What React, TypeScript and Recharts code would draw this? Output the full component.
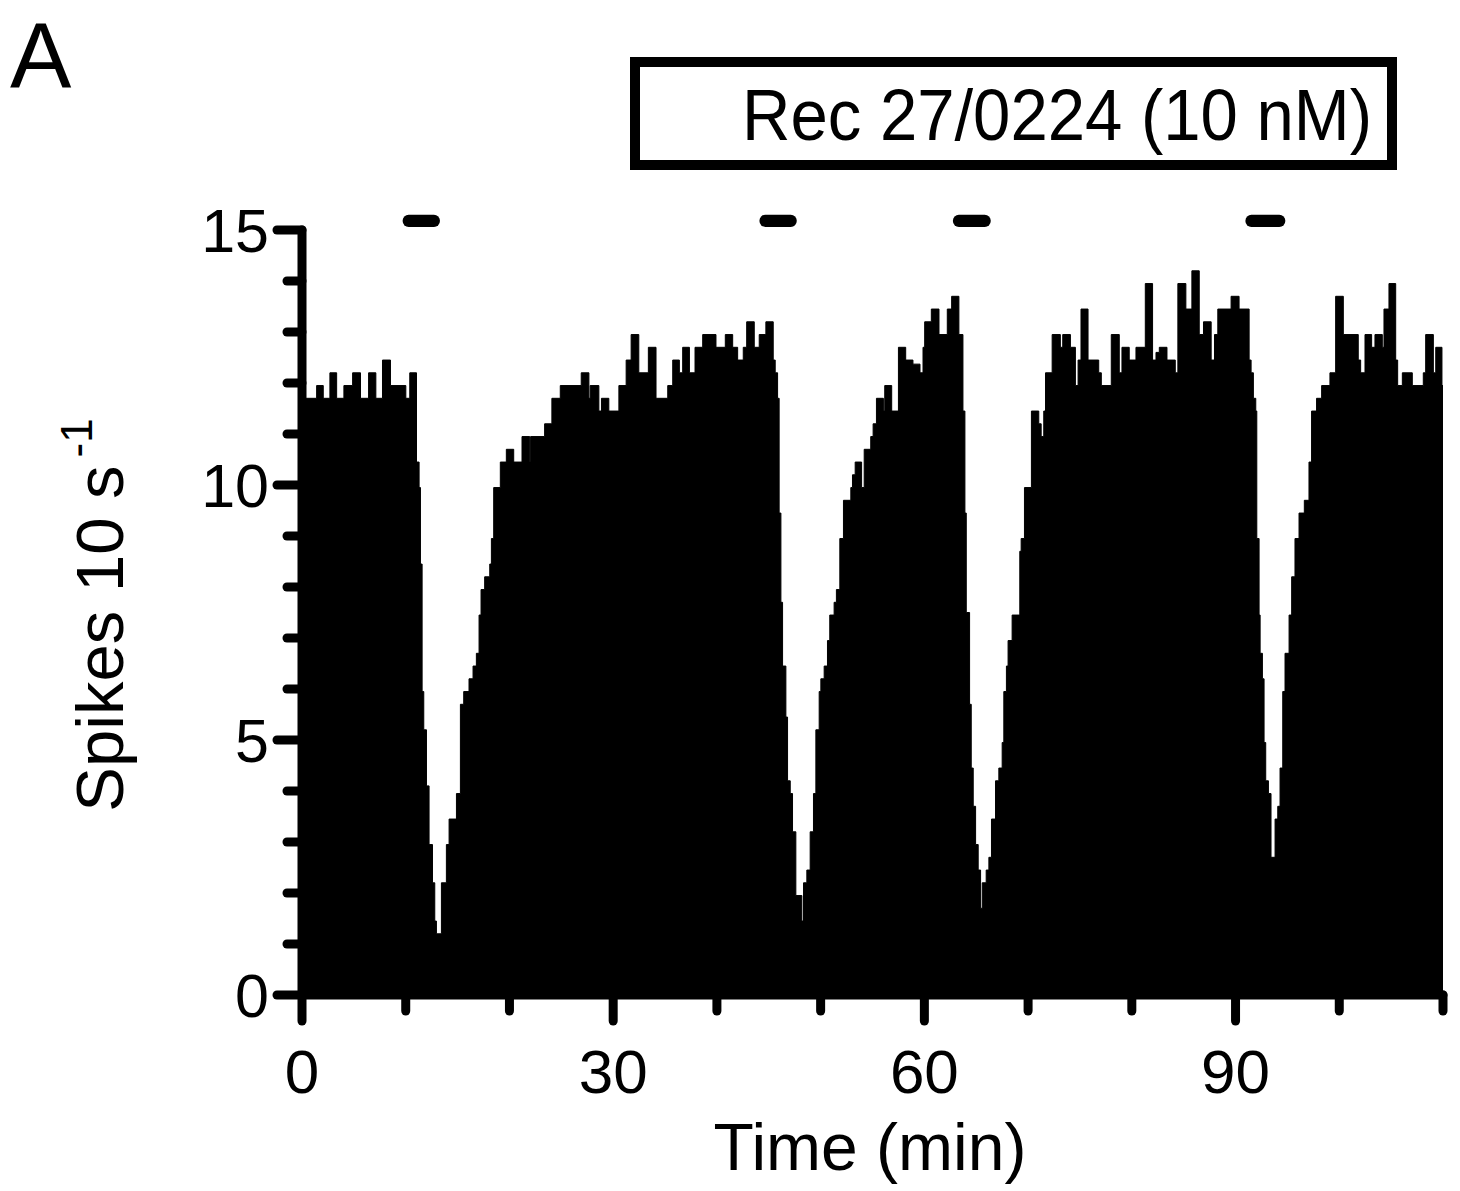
import { ComposedChart, Area, XAxis, YAxis, ReferenceArea } from 'recharts'

// step histogram: time (min) where a step begins, and the rate it holds
const stepTimes = [
	0, 1.41, 2.05, 2.69, 3.34, 4.04, 4.88, 5.64, 6.42, 7.12, 7.76, 8.53, 10.01, 10.39,
	11.04, 11.29, 11.42, 11.58, 11.74, 12.0, 12.25, 12.58, 12.8, 12.96,
	13.44, 13.92, 14.18, 14.89, 15.27, 15.59, 16.1, 16.49, 16.81, 17.07, 17.26, 17.61,
	18.1, 18.26, 18.48, 19.12, 19.7, 20.41, 21.21, 21.95, 22.04, 23.39, 24.09, 24.9,
	26.92, 27.66, 27.78, 28.62, 28.87, 29.58, 30.55, 31.25, 31.73, 32.47, 33.39, 34.13,
	35.26, 35.74, 36.38, 36.7, 37.35, 37.89, 38.63, 39.91, 40.81, 41.52, 42.0, 42.54,
	42.87, 43.6, 44.08, 44.72, 45.43, 45.62, 45.85,
	46.0, 46.17, 46.33, 46.65, 46.81, 47.07, 47.29, 47.61, 48.19,
	48.35, 48.67, 48.99, 49.31, 49.54, 49.86, 50.02, 50.34, 50.66, 50.88, 51.3, 51.52,
	51.85, 52.2, 52.91, 53.07, 53.33, 53.95, 54.2, 54.83, 55.06, 55.38, 56.05, 56.18,
	56.85, 57.5, 58.2, 58.9, 59.58, 59.87, 60.03, 60.67, 61.41, 62.21, 62.63, 63.33,
	63.72, 63.91, 64.04, 64.36, 64.52, 64.71, 64.94, 65.19, 65.42,
	65.58, 65.96, 66.22, 66.47, 66.86, 67.18, 67.5, 67.66, 67.91, 68.07, 68.46, 69.2,
	69.33, 69.65, 70.32, 71.03, 71.26, 71.51, 71.68, 72.32,
	73.11, 73.34, 74.08, 74.56, 74.82, 75.1, 75.78, 76.81, 77.06, 78.02, 78.79, 79.05,
	79.75, 80.4, 81.3, 82.0, 82.33, 82.65, 83.39, 84.19, 84.44, 85.21, 85.79, 86.5,
	86.91, 87.65, 87.97, 88.29, 89.57, 90.34,
	91.31, 91.5, 91.72, 91.95, 92.05, 92.27, 92.37, 92.59, 92.75, 92.91, 93.17, 93.42,
	93.81, 94.07, 94.29, 94.55, 94.77, 95.16, 95.41, 95.73, 96.12, 96.63, 97.08, 97.33,
	97.81, 98.3, 99.1, 99.65, 100.39, 101.83, 102.06, 102.48, 103.12, 103.44, 104.15,
	104.31, 104.79, 105.44, 105.63, 106.08, 107.04, 108.1, 108.33, 109.07, 109.3, 109.9, 110,
]
const spikeRates = [
	11.7, 11.95, 11.7, 12.2, 11.7, 11.95, 12.2, 11.7, 12.2, 11.7, 12.45, 11.95, 11.7, 12.2,
	10.45, 9.95, 8.45, 5.95, 5.2, 4.1, 2.95, 2.2, 1.45, 1.2,
	2.2, 2.95, 3.45, 3.95, 5.7, 5.95, 6.2, 6.45, 6.7, 7.45, 7.95, 8.2,
	8.45, 8.95, 9.95, 10.45, 10.7, 10.45, 10.95, 10.45, 10.95, 11.2, 11.7, 11.95,
	12.2, 11.7, 11.95, 11.45, 11.7, 11.45, 11.95, 12.45, 12.95, 12.2, 12.7, 11.7,
	11.95, 12.45, 12.2, 12.7, 12.2, 12.7, 12.95, 12.7, 12.95, 12.7, 12.45, 12.7,
	13.2, 12.7, 12.95, 13.2, 12.45, 12.2, 11.7,
	9.45, 7.7, 6.45, 5.45, 4.2, 3.95, 3.2, 1.95, 1.45,
	2.2, 2.45, 3.2, 3.95, 5.2, 5.95, 6.2, 6.45, 6.95, 7.45, 7.7, 7.95,
	8.95, 9.7, 9.95, 10.2, 10.45, 9.95, 10.7, 10.95, 11.2, 11.7, 11.45, 11.95,
	11.45, 12.7, 12.45, 12.37, 12.2, 12.7, 13.2, 13.45, 12.95, 13.45, 13.7, 12.95,
	11.45, 9.45, 7.5, 5.7, 4.45, 3.7, 2.95, 2.45, 1.7,
	2.2, 2.45, 2.7, 3.45, 4.2, 4.45, 4.95, 5.95, 6.45, 6.95, 7.45, 8.7,
	8.95, 9.95, 11.45, 11.2, 10.95, 11.45, 12.2, 12.95,
	12.7, 12.95, 12.7, 11.95, 12.45, 13.45, 12.45, 12.2, 11.95, 12.95, 12.2, 12.7,
	12.45, 12.7, 13.95, 12.45, 12.6, 12.7, 12.45, 12.2, 13.95, 13.45, 14.2, 12.95,
	13.2, 12.45, 12.95, 13.45, 13.7, 13.45,
	12.45, 12.2, 11.7, 11.45, 8.95, 7.45, 6.7, 6.2, 4.95, 4.2, 3.95, 2.7,
	3.45, 3.7, 4.45, 5.95, 6.7, 7.45, 8.2, 8.95, 9.45, 9.7, 10.45, 11.45,
	11.7, 11.95, 12.2, 13.7, 12.95, 12.45, 12.2, 12.95, 12.7, 12.95, 12.7,
	13.45, 13.95, 12.45, 11.95, 12.2, 11.95, 12.2, 12.95, 12.2, 12.7, 11.95, 11.95,
]

// drug application periods (min)
const drugStart = [9.7, 44.1, 62.75, 90.95]
const drugEnd = [13.3, 47.7, 66.4, 94.8]

const xTicks = [0, 10, 20, 30, 40, 50, 60, 70, 80, 90, 100, 110]
const xLabelled = [0, 30, 60, 90]
const yTicks = [0, 1, 2, 3, 4, 5, 6, 7, 8, 9, 10, 11, 12, 13, 14, 15]
const yLabelled = [0, 5, 10, 15]

const FONT = '"Liberation Sans", Arial, Helvetica, sans-serif'

const data = stepTimes.map((t, i) => ({ t, rate: spikeRates[i] }))

function XTick({ x, y, payload }: any) {
	const major = xLabelled.includes(payload.value)
	return (
		<g>
			<line x1={x} y1={y} x2={x} y2={y + (major ? 26 : 16)} stroke="#000" strokeWidth={9} strokeLinecap="round" />
			{major && (
				<text x={x} y={y + 98} textAnchor="middle" fontSize={62} fontFamily={FONT} fill="#000">
					{payload.value}
				</text>
			)}
		</g>
	)
}

function YTick({ x, y, payload }: any) {
	const major = yLabelled.includes(payload.value)
	return (
		<g>
			<line x1={x} y1={y} x2={x - (major ? 25 : 15)} y2={y} stroke="#000" strokeWidth={9} strokeLinecap="round" />
			{major && (
				<text x={x - 33} y={y + 22} textAnchor="end" fontSize={61} fontFamily={FONT} fill="#000">
					{payload.value}
				</text>
			)}
		</g>
	)
}

const drugBar = (p: any) => <rect x={p.x} y={p.y} width={p.width} height={p.height} rx={6} ry={6} fill="#000" />

export default function App() {
	return (
		<div style={{ position: 'absolute', left: 0, top: 0, width: 1460, height: 1191, background: '#fff' }}>
			<ComposedChart width={1460} height={1191} data={data} margin={{ top: 230, right: 17, bottom: 0, left: 0 }}>
				<XAxis
					dataKey="t"
					type="number"
					domain={[0, 110]}
					ticks={xTicks}
					interval={0}
					height={196}
					tickSize={0}
					tickMargin={0}
					tickLine={false}
					tick={<XTick />}
					axisLine={{ stroke: '#000', strokeWidth: 9, strokeLinecap: 'round' }}
					label={() => (
						<text x={870} y={1170} textAnchor="middle" fontSize={66} fontFamily={FONT} fill="#000">
							Time (min)
						</text>
					)}
				/>
				<YAxis
					type="number"
					domain={[0, 15]}
					ticks={yTicks}
					interval={0}
					width={302}
					tickSize={0}
					tickMargin={0}
					tickLine={false}
					tick={<YTick />}
					axisLine={{ stroke: '#000', strokeWidth: 9, strokeLinecap: 'round' }}
					label={() => (
						<text
							x={123}
							y={615}
							transform="rotate(-90, 123, 615)"
							textAnchor="middle"
							fontSize={67}
							fontFamily={FONT}
							fill="#000"
						>
							Spikes 10 s
							<tspan dx={8} dy={-31} fontSize={44}>
								-1
							</tspan>
						</text>
					)}
				/>
				<Area
					dataKey="rate"
					type="stepAfter"
					baseValue={0}
					fill="#000"
					fillOpacity={1}
					stroke="#000"
					strokeWidth={1}
					dot={false}
					activeDot={false}
					isAnimationActive={false}
				/>
				{drugStart.map((s, i) => (
					<ReferenceArea
						key={i}
						x1={s}
						x2={drugEnd[i]}
						y1={15.06}
						y2={15.3}
						ifOverflow="visible"
						shape={drugBar}
					/>
				))}
			</ComposedChart>
			<svg width={1460} height={1191} style={{ position: 'absolute', left: 0, top: 0, pointerEvents: 'none' }}>
				<text x={10} y={88} fontSize={92} fontFamily={FONT} fill="#000">
					A
				</text>
				<rect x={635} y={62} width={757} height={103} fill="none" stroke="#000" strokeWidth={10} />
				<text
					x={1057}
					y={140}
					textAnchor="middle"
					fontSize={72}
					fontFamily={FONT}
					fill="#000"
					textLength={630}
					lengthAdjust="spacingAndGlyphs"
				>
					Rec 27/0224 (10 nM)
				</text>
			</svg>
		</div>
	)
}
